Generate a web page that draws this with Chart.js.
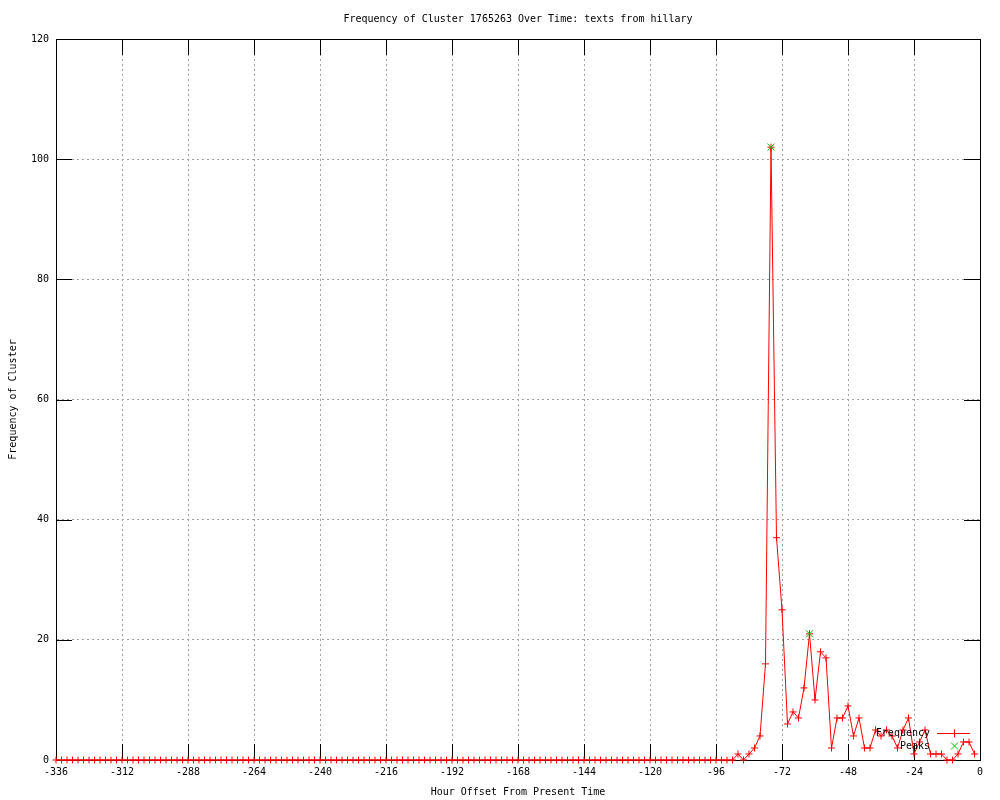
<!DOCTYPE html>
<html>
<head>
<meta charset="utf-8">
<title>Frequency of Cluster 1765263</title>
<script src="https://cdn.jsdelivr.net/npm/chart.js@4"></script>
<style>
  html, body { margin: 0; padding: 0; background: #fff; }
  canvas { display: block; }
</style>
</head>
<body>
<canvas id="chart" width="1000" height="800"></canvas>
<script>
// ─── Data ─────────────────────────────────────────────────────────────────
const chartTitle = 'Frequency of Cluster 1765263 Over Time: texts from hillary';
const xTitle = 'Hour Offset From Present Time';
const yTitle = 'Frequency of Cluster';

const hours = [
  -336, -334, -332, -330, -328, -326, -324, -322, -320, -318, -316, -314,
  -312, -310, -308, -306, -304, -302, -300, -298, -296, -294, -292, -290,
  -288, -286, -284, -282, -280, -278, -276, -274, -272, -270, -268, -266,
  -264, -262, -260, -258, -256, -254, -252, -250, -248, -246, -244, -242,
  -240, -238, -236, -234, -232, -230, -228, -226, -224, -222, -220, -218,
  -216, -214, -212, -210, -208, -206, -204, -202, -200, -198, -196, -194,
  -192, -190, -188, -186, -184, -182, -180, -178, -176, -174, -172, -170,
  -168, -166, -164, -162, -160, -158, -156, -154, -152, -150, -148, -146,
  -144, -142, -140, -138, -136, -134, -132, -130, -128, -126, -124, -122,
  -120, -118, -116, -114, -112, -110, -108, -106, -104, -102, -100, -98,
  -96, -94, -92, -90, -88, -86, -84, -82, -80, -78, -76, -74,
  -72, -70, -68, -66, -64, -62, -60, -58, -56, -54, -52, -50,
  -48, -46, -44, -42, -40, -38, -36, -34, -32, -30, -28, -26,
  -24, -22, -20, -18, -16, -14, -12, -10, -8, -6, -4, -2
];

const frequency = [
  0, 0, 0, 0, 0, 0, 0, 0, 0, 0, 0, 0,
  0, 0, 0, 0, 0, 0, 0, 0, 0, 0, 0, 0,
  0, 0, 0, 0, 0, 0, 0, 0, 0, 0, 0, 0,
  0, 0, 0, 0, 0, 0, 0, 0, 0, 0, 0, 0,
  0, 0, 0, 0, 0, 0, 0, 0, 0, 0, 0, 0,
  0, 0, 0, 0, 0, 0, 0, 0, 0, 0, 0, 0,
  0, 0, 0, 0, 0, 0, 0, 0, 0, 0, 0, 0,
  0, 0, 0, 0, 0, 0, 0, 0, 0, 0, 0, 0,
  0, 0, 0, 0, 0, 0, 0, 0, 0, 0, 0, 0,
  0, 0, 0, 0, 0, 0, 0, 0, 0, 0, 0, 0,
  0, 0, 0, 0, 1, 0, 1, 2, 4, 16, 102, 37,
  25, 6, 8, 7, 12, 21, 10, 18, 17, 2, 7, 7,
  9, 4, 7, 2, 2, 5, 4, 5, 4, 2, 5, 7,
  1, 3, 5, 1, 1, 1, 0, 0, 1, 3, 3, 1
];

const peakHours = [-76, -62];
const peakValues = [102, 21];

const xTicks = [-336, -312, -288, -264, -240, -216, -192, -168, -144, -120, -96, -72, -48, -24, 0];
const yTicks = [0, 20, 40, 60, 80, 100, 120];

// ─── Style ────────────────────────────────────────────────────────────────
const FONT = { family: "'DejaVu Sans Mono', 'Liberation Mono', monospace", size: 10 };
const RED = '#ff0000';
const GREEN = '#00c000';
const GRID = '#a0a0a0';
const TICK_LEN = 16;

// ─── Plugins ──────────────────────────────────────────────────────────────
// gnuplot style: major ticks drawn inward on all four sides
const innerTicks = {
  id: 'innerTicks',
  beforeDatasetsDraw(chart) {
    const { ctx, chartArea: a, scales } = chart;
    ctx.save();
    ctx.strokeStyle = '#000';
    ctx.lineWidth = 1;
    ctx.beginPath();
    xTicks.forEach((v) => {
      const px = Math.round(scales.x.getPixelForValue(v)) + 0.5;
      ctx.moveTo(px, a.bottom); ctx.lineTo(px, a.bottom - TICK_LEN);
      ctx.moveTo(px, a.top); ctx.lineTo(px, a.top + TICK_LEN);
    });
    yTicks.forEach((v) => {
      const py = Math.round(scales.y.getPixelForValue(v)) + 0.5;
      ctx.moveTo(a.left, py); ctx.lineTo(a.left + TICK_LEN, py);
      ctx.moveTo(a.right, py); ctx.lineTo(a.right - TICK_LEN, py);
    });
    ctx.stroke();
    ctx.restore();
  }
};

// key box inside the plot, bottom right
const insideKey = {
  id: 'insideKey',
  afterDatasetsDraw(chart) {
    const { ctx, chartArea: a } = chart;
    const [freq, peaks] = chart.data.datasets;
    const textRight = a.right - 50;
    const x1 = a.right - 43, x2 = a.right - 10, xm = Math.round((x1 + x2) / 2) + 0.5;
    const row1 = a.bottom - 27, row2 = a.bottom - 14;
    ctx.save();
    ctx.font = `${FONT.size}px ${FONT.family}`;
    ctx.fillStyle = '#000';
    ctx.textAlign = 'right';
    ctx.textBaseline = 'middle';
    ctx.fillText(freq.label, textRight, row1);
    ctx.fillText(peaks.label, textRight, row2);

    ctx.lineWidth = 1;
    ctx.strokeStyle = RED;
    ctx.beginPath();
    ctx.moveTo(x1, row1 + 0.5); ctx.lineTo(x2, row1 + 0.5);
    ctx.moveTo(xm, row1 - 3.5); ctx.lineTo(xm, row1 + 4.5);
    ctx.stroke();

    ctx.strokeStyle = GREEN;
    ctx.beginPath();
    ctx.moveTo(xm - 3.5, row2 - 3.5); ctx.lineTo(xm + 3.5, row2 + 3.5);
    ctx.moveTo(xm - 3.5, row2 + 3.5); ctx.lineTo(xm + 3.5, row2 - 3.5);
    ctx.stroke();
    ctx.restore();
  }
};

// ─── Chart ────────────────────────────────────────────────────────────────
const setTicks = (list) => (scale) => { scale.ticks = list.map((v) => ({ value: v })); };

new Chart(document.getElementById('chart'), {
  type: 'line',
  data: {
    datasets: [
      {
        label: 'Frequency',
        data: hours.map((h, i) => ({ x: h, y: frequency[i] })),
        borderColor: RED,
        borderWidth: 1,
        tension: 0,
        pointStyle: 'cross',
        pointRadius: 3.5,
        pointBorderWidth: 1,
        pointBorderColor: RED,
        clip: false,
        order: 1,
      },
      {
        label: 'Peaks',
        data: peakHours.map((h, i) => ({ x: h, y: peakValues[i] })),
        showLine: false,
        borderColor: GREEN,
        pointStyle: 'crossRot',
        pointRadius: 5,
        pointBorderWidth: 1,
        pointBorderColor: GREEN,
        clip: false,
        order: 0,
      },
    ],
  },
  options: {
    responsive: false,
    animation: false,
    devicePixelRatio: 1,
    layout: { padding: 0 },
    plugins: {
      legend: { display: false },
      tooltip: { enabled: false },
      title: { display: false },
    },
    scales: {
      x: {
        type: 'linear',
        position: 'bottom',
        min: -336,
        max: 0,
        afterBuildTicks: setTicks(xTicks),
        afterFit: (s) => { s.height = 40; },
        ticks: { font: FONT, color: '#000', padding: 6, maxRotation: 0, autoSkip: false, callback: (v) => String(v) },
        grid: { color: GRID, drawTicks: false },
        border: { color: '#000', dash: [2, 3] },
        title: { display: true, text: xTitle, font: FONT, color: '#000', padding: { top: 0, bottom: 2 } },
      },
      x2: {
        type: 'linear',
        position: 'top',
        min: -336,
        max: 0,
        afterFit: (s) => { s.height = 39; },
        ticks: { display: false },
        grid: { display: false },
        border: { color: '#000' },
        title: { display: true, text: chartTitle, font: FONT, color: '#000', padding: { top: 13, bottom: 0 } },
      },
      y: {
        type: 'linear',
        position: 'left',
        min: 0,
        max: 120,
        afterBuildTicks: setTicks(yTicks),
        afterFit: (s) => { s.width = 56; },
        ticks: { font: FONT, color: '#000', padding: 7, callback: (v) => String(v) },
        grid: { color: GRID, drawTicks: false },
        border: { color: '#000', dash: [2, 3] },
        title: { display: true, text: yTitle, font: FONT, color: '#000', padding: { top: 7, bottom: 0 } },
      },
      y2: {
        type: 'linear',
        position: 'right',
        min: 0,
        max: 120,
        afterFit: (s) => { s.width = 20; },
        ticks: { display: false },
        grid: { display: false },
        border: { color: '#000' },
      },
    },
  },
  plugins: [innerTicks, insideKey],
});
</script>
</body>
</html>
